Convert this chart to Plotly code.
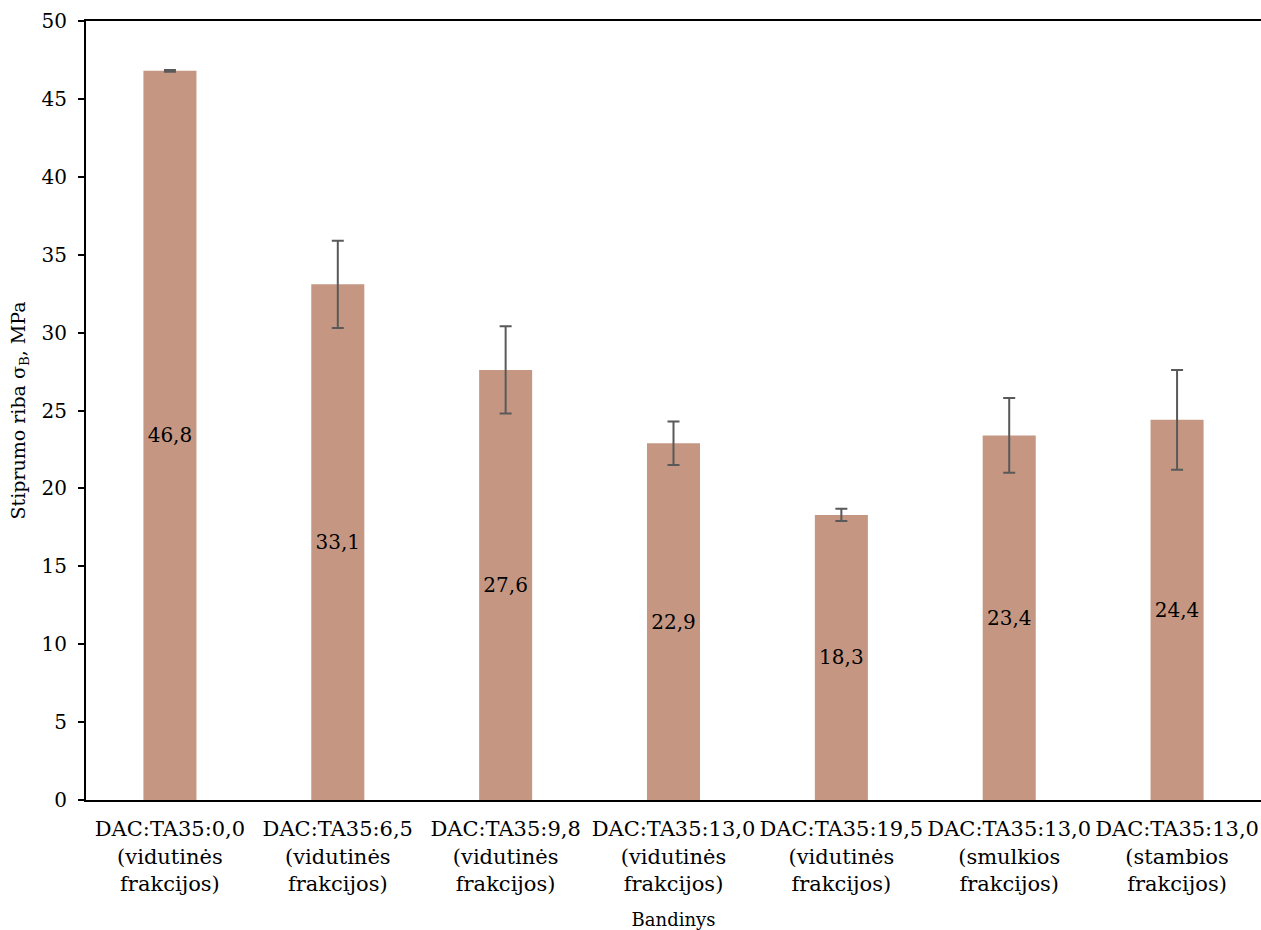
import plotly.graph_objects as go

categories = [
    "DAC:TA35:0,0<br>(vidutinės<br>frakcijos)",
    "DAC:TA35:6,5<br>(vidutinės<br>frakcijos)",
    "DAC:TA35:9,8<br>(vidutinės<br>frakcijos)",
    "DAC:TA35:13,0<br>(vidutinės<br>frakcijos)",
    "DAC:TA35:19,5<br>(vidutinės<br>frakcijos)",
    "DAC:TA35:13,0<br>(smulkios<br>frakcijos)",
    "DAC:TA35:13,0<br>(stambios<br>frakcijos)",
]
values = [46.8, 33.1, 27.6, 22.9, 18.3, 23.4, 24.4]
errors = [0.05, 2.8, 2.8, 1.4, 0.4, 2.4, 3.2]
labels = [f"{v:.1f}".replace(".", ",") for v in values]
y_ticks = [0, 5, 10, 15, 20, 25, 30, 35, 40, 45, 50]

font_family = "DejaVu Serif"

fig = go.Figure()
fig.add_trace(go.Bar(
    x=categories,
    y=values,
    width=0.316,
    marker=dict(color="#C59782", line=dict(width=0)),
    text=labels,
    textposition="inside",
    insidetextanchor="middle",
    textangle=0,
    constraintext="none",
    textfont=dict(family=font_family, size=20, color="black"),
    error_y=dict(type="data", array=errors, visible=True,
                 color="#595959", thickness=2, width=6),
))

fig.update_layout(
    width=1261, height=930,
    margin=dict(l=86, r=0, t=21, b=130),
    paper_bgcolor="white", plot_bgcolor="white",
    showlegend=False,
    font=dict(family=font_family, size=20, color="black"),
    bargap=0.684,
    xaxis=dict(
        showline=True, linecolor="black", linewidth=2, mirror=True,
        ticks="", showgrid=False, ticklabelstandoff=9,
        tickfont=dict(family=font_family, size=21, color="black"),
        title=dict(text="Bandinys", font=dict(family=font_family, size=18, color="black"), standoff=22),
    ),
    yaxis=dict(
        range=[0, 50], tickvals=y_ticks,
        showline=True, linecolor="black", linewidth=2,
        ticks="outside", ticklen=6, tickwidth=2, tickcolor="black",
        ticklabelstandoff=7,
        showgrid=False, zeroline=False,
        tickfont=dict(family=font_family, size=20, color="black"),
        title=dict(text="Stiprumo riba σ<sub>B</sub>, MPa",
                   font=dict(family=font_family, size=19, color="black"), standoff=11),
    ),
)

fig.write_html("out.html", config={"displayModeBar": False},
               post_script="document.body.style.margin='0';document.body.style.padding='0';")
